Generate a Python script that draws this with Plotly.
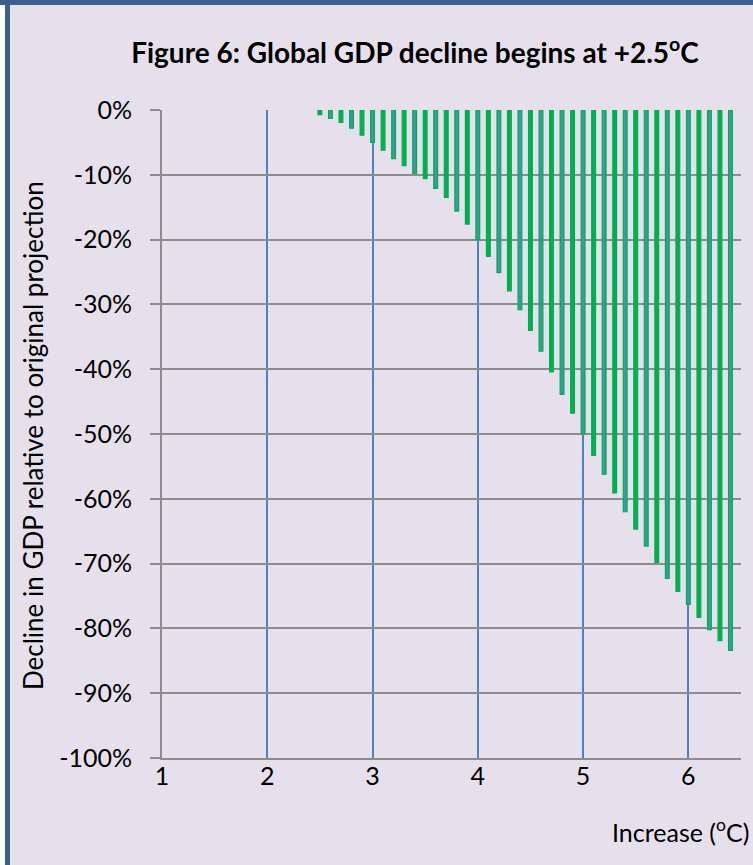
import plotly.graph_objects as go

# Data
temps = [2.5, 2.6, 2.7, 2.8, 2.9, 3.0, 3.1, 3.2, 3.3, 3.4,
         3.5, 3.6, 3.7, 3.8, 3.9, 4.0, 4.1, 4.2, 4.3, 4.4,
         4.5, 4.6, 4.7, 4.8, 4.9, 5.0, 5.1, 5.2, 5.3, 5.4,
         5.5, 5.6, 5.7, 5.8, 5.9, 6.0, 6.1, 6.2, 6.3, 6.4]
gdp_decline = [-0.7, -1.3, -1.9, -2.8, -3.9, -5.0, -6.2, -7.5, -8.6, -9.8,
               -10.6, -12.1, -13.5, -15.6, -17.6, -20.0, -22.6, -25.1, -27.9, -30.8,
               -34.0, -37.2, -40.4, -43.9, -46.8, -50.0, -53.3, -56.2, -59.1, -62.0,
               -64.7, -67.3, -69.8, -72.3, -74.3, -76.3, -78.3, -80.2, -81.9, -83.4]
y_ticks = [0, -10, -20, -30, -40, -50, -60, -70, -80, -90, -100]
y_labels = [f"{v}%" for v in y_ticks]
x_ticks = [1, 2, 3, 4, 5, 6]

W, H = 753, 865
L, R, T, B = 162, 12, 110, 107
FONT = "Lato, 'Open Sans', sans-serif"
BG = "#e6e0ec"
GREEN = "#00b050"
BORDER = "#3a5f8c"


def px_x(px):
    return (px - L) / (W - L - R)


def px_y(py):
    return 1 - (py - T) / (H - T - B)


# alternate fills, mimicking the blue-cored bars in the original
fills = [GREEN if i % 2 == 0 else "#3a9a9c" for i in range(len(temps))]

fig = go.Figure()
fig.add_trace(go.Bar(
    x=temps,
    y=gdp_decline,
    width=0.036,
    marker=dict(color=fills, line=dict(color=GREEN, width=1.2)),
    hovertemplate="%{x}°C: %{y:.1f}%<extra></extra>",
))

fig.update_layout(
    width=W, height=H,
    margin=dict(l=L, r=R, t=T, b=B),
    paper_bgcolor=BG,
    plot_bgcolor=BG,
    showlegend=False,
    font=dict(family=FONT, color="#000000"),
    title=dict(
        text="<b>Figure 6: Global GDP decline begins at +2.5<sup>o</sup>C</b>",
        font=dict(size=28, family=FONT),
        x=px_x(415), xref="paper", xanchor="center",
        y=1 - 53 / H, yanchor="middle",
    ),
    xaxis=dict(
        range=[1, 6.5],
        tickvals=x_ticks,
        ticktext=[str(v) for v in x_ticks],
        tickfont=dict(size=25),
        showgrid=True, gridcolor="#4f81bd", gridwidth=2,
        showline=True, linecolor="#8c8c8c", linewidth=2,
        zeroline=False, ticks="",
        ticklabelstandoff=-5,
    ),
    yaxis=dict(
        range=[-100, 0],
        tickvals=y_ticks,
        ticktext=y_labels,
        tickfont=dict(size=25),
        showgrid=True, gridcolor="#8c8c8c", gridwidth=2,
        showline=True, linecolor="#8c8c8c", linewidth=2,
        zeroline=False,
        ticks="outside", ticklen=10, tickwidth=2, tickcolor="#8c8c8c",
        ticklabelstandoff=13,
    ),
)

# y axis title and x axis title placed like the original
fig.add_annotation(
    text="Decline in GDP relative to original projection",
    xref="paper", yref="paper", x=px_x(33), y=px_y(436),
    textangle=-90, showarrow=False, font=dict(size=26, family=FONT),
    xanchor="center", yanchor="middle",
)
fig.add_annotation(
    text="Increase (<sup>o</sup>C)",
    xref="paper", yref="paper", x=px_x(751), y=px_y(830),
    showarrow=False, font=dict(size=25, family=FONT),
    xanchor="right", yanchor="middle",
)

# blue frame along top and left edges
fig.add_shape(type="rect", xref="paper", yref="paper",
              x0=px_x(0), x1=px_x(W), y0=px_y(0), y1=px_y(5),
              fillcolor=BORDER, line_width=0, layer="above")
fig.add_shape(type="rect", xref="paper", yref="paper",
              x0=px_x(5), x1=px_x(10), y0=px_y(0), y1=px_y(H),
              fillcolor=BORDER, line_width=0, layer="above")
fig.add_shape(type="rect", xref="paper", yref="paper",
              x0=px_x(0), x1=px_x(5), y0=px_y(5), y1=px_y(H),
              fillcolor="#ffffff", line_width=0, layer="above")

# drop the default page margin so the figure sits at the window's corner
fig.write_html("out.html", config={"displayModeBar": False},
               post_script="document.body.style.margin = '0';")
